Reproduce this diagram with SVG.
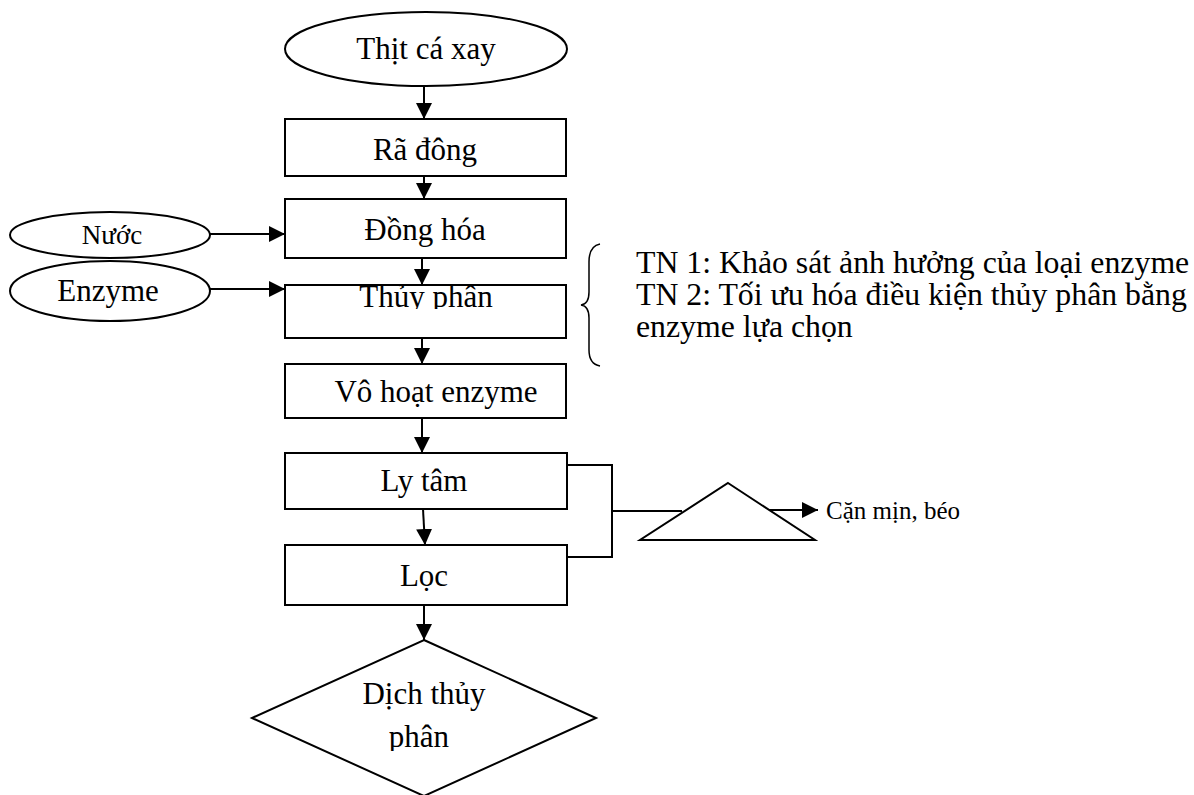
<svg xmlns="http://www.w3.org/2000/svg" width="1194" height="795" viewBox="0 0 1194 795">
<defs>
<style>
.s{fill:#fff;stroke:#000;stroke-width:2}
.t{font-family:"Liberation Serif","Times New Roman",serif;font-size:31px;fill:#000;text-anchor:middle}
.l{font-family:"Liberation Serif","Times New Roman",serif;font-size:31.8px;fill:#000}
.c{fill:none;stroke:#000;stroke-width:2}
</style>
<marker id="b" viewBox="0 0 10 10" refX="10" refY="5" markerWidth="16" markerHeight="16" markerUnits="userSpaceOnUse" orient="auto">
<path d="M0,0 L10,5 L0,10 z" fill="#000"/>
</marker>
<clipPath id="cp1"><rect x="286" y="286" width="279" height="23"/></clipPath>
<clipPath id="cp2"><rect x="300" y="660" width="250" height="91"/></clipPath>
</defs>
<rect width="1194" height="795" fill="#fff"/>
<g id="connectors">
<path class="c" d="M424,86 V119" marker-end="url(#b)"/>
<path class="c" d="M424,176 V199" marker-end="url(#b)"/>
<path class="c" d="M210,234 H285" marker-end="url(#b)"/>
<path class="c" d="M422,258 V285" marker-end="url(#b)"/>
<path class="c" d="M210,289 H285" marker-end="url(#b)"/>
<path class="c" d="M422,338 V364" marker-end="url(#b)"/>
<path class="c" d="M422,418 V453" marker-end="url(#b)"/>
<path class="c" d="M423,509 L425,545" marker-end="url(#b)"/>
<path class="c" d="M424,605 V640" marker-end="url(#b)"/>
<path class="c" d="M567,465 H612 V557 H567"/>
<path class="c" d="M612,511 H682"/>
<path class="c" d="M769,510 L818,510" marker-end="url(#b)"/>
</g>
<g id="n-thit"><ellipse class="s" cx="426" cy="49" rx="141" ry="37"/><text class="t" x="426" y="59">Thịt cá xay</text></g>
<g id="n-radong"><rect class="s" x="285" y="119" width="281" height="57"/><text class="t" x="425" y="160">Rã đông</text></g>
<g id="n-dongHoa"><rect class="s" x="285" y="199" width="281" height="59"/><text class="t" x="425" y="240">Đồng hóa</text></g>
<g id="n-nuoc"><ellipse class="s" cx="110" cy="235" rx="100" ry="23"/><text class="t" x="112" y="244" style="font-size:27px">Nước</text></g>
<g id="n-thuyphan"><rect class="s" x="285" y="285" width="281" height="53"/><text class="t" x="426" y="307" clip-path="url(#cp1)">Thủy phân</text></g>
<g id="n-enzyme"><ellipse class="s" cx="110" cy="291" rx="100" ry="30"/><text class="t" x="108" y="301">Enzyme</text></g>
<g id="n-vohoat"><rect class="s" x="285" y="364" width="281" height="54"/><text class="t" x="436" y="402">Vô hoạt enzyme</text></g>
<g id="n-lytam"><rect class="s" x="285" y="453" width="282" height="56"/><text class="t" x="424" y="491">Ly tâm</text></g>
<g id="n-loc"><rect class="s" x="285" y="545" width="282" height="60"/><text class="t" x="424" y="586">Lọc</text></g>
<g id="n-tri"><path class="s" d="M728,483 L815,540 L640,540 Z"/></g>
<g id="n-can"><text class="l" x="826" y="519" style="font-size:25px">Cặn mịn, béo</text></g>
<g id="n-dich"><path class="s" d="M424,640 L596,718 L424,796 L252,718 Z"/><g clip-path="url(#cp2)"><text class="t" x="424" y="704">Dịch thủy</text><text class="t" x="419" y="747">phân</text></g></g>
<g id="n-brace"><path class="c" style="stroke-width:1.5" d="M600,244 Q589,246 589,262 V292 Q589,304 581,305 Q589,306 589,318 V350 Q589,364 600,366"/></g>
<g id="n-tn"><text class="l" x="636" y="273">TN 1: Khảo sát ảnh hưởng của loại enzyme</text><text class="l" x="636" y="305">TN 2: Tối ưu hóa điều kiện thủy phân bằng</text><text class="l" x="636" y="337">enzyme lựa chọn</text></g>
</svg>
